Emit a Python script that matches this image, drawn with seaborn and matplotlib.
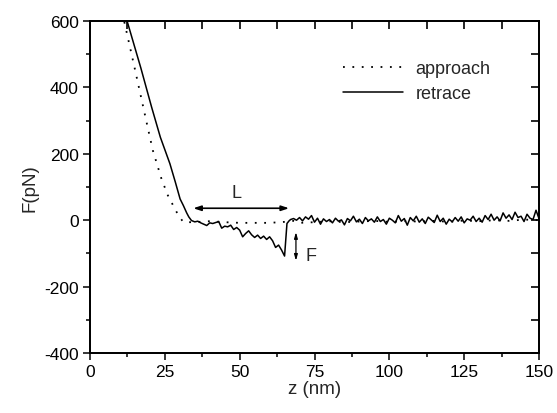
import numpy as np
import pandas as pd
import matplotlib
matplotlib.use("Agg")
import matplotlib.pyplot as plt
from matplotlib.ticker import MultipleLocator
import seaborn as sns

# ---- data ----
approach_z = [10.8, 11.4, 15.0, 18.9, 21.0, 23.9, 26.0, 27.8, 29.5, 31.2,
              35, 40, 45, 50, 55, 60, 65, 68, 70, 75, 80, 85, 90, 95, 100, 105,
              110, 115, 120, 125, 130, 135, 140, 145, 150]
approach_f = [625, 600, 455, 295, 210, 124, 75, 44, 15, -6,
              -6, -3, -6, -8, -8, -8, -5, -2, -8, -6, -3, -6, -4, -2, -5, -3,
              -4, -2, -5, -1, -3, 0, -2, 2, 0]

retrace_z = [12.0, 14.5, 17.0, 20.6, 23.5, 26.7, 28.5, 30.1, 31.2, 32.3, 33.0, 33.9,
             35, 36, 37, 38, 39, 40, 41, 42, 43, 44, 45, 46, 47, 48, 49, 50,
             51, 52, 53, 54, 55, 56, 57, 58, 59, 60, 61, 62, 63, 64, 65, 65.8, 66.5,
             67, 68, 69, 70, 71, 72, 73, 74, 75, 76, 77, 78, 79,
             80, 81, 82, 83, 84, 85, 86, 87, 88, 89, 90, 91, 92, 93, 94, 95, 96,
             97, 98, 99, 100, 101, 102, 103, 104, 105, 106, 107, 108, 109, 110,
             111, 112, 113, 114, 115, 116, 117, 118, 119, 120, 121, 122, 123, 124,
             125, 126, 127, 128, 129, 130, 131, 132, 133, 134, 135, 136, 137, 138,
             139, 140, 141, 142, 143, 144, 145, 146, 147, 148, 149, 150]
retrace_f = [612, 535, 458, 340, 250, 170, 115, 64, 44, 22, 10, -1,
             -5, -3, -8, -12, -16, -8, -10, -7, -4, -24, -18, -20, -15, -28, -22, -30,
             -50, -40, -32, -44, -52, -45, -55, -48, -58, -50, -62, -82, -75, -90, -108, -10, -2,
             2, 5, 0, 8, -2, 10, 3, 14, -6, 6, -12, 4, -4,
             2, -8, 6, -3, 1, -14, 5, -2, 12, -5, 3, -10, 8, -2, 4, -6, 10,
             -4, 2, -12, 6, 0, -8, 14, -3, 5, -15, 8, -2, 12, -6,
             4, -10, 9, 1, -7, 15, -4, 6, -12, 3, -5, 8, -3, 10,
             -8, 4, 0, 12, -4, 6, -6, 14, 2, 18, 0, 10, -2, 22,
             6, 16, 2, 24, 8, 12, -4, 18, 6, 2, 30, 5]

x_ticks = [0, 25, 50, 75, 100, 125, 150]
y_ticks = [-400, -200, 0, 200, 400, 600]

df_a = pd.DataFrame({"z": approach_z, "F": approach_f})
df_r = pd.DataFrame({"z": retrace_z, "F": retrace_f})

sns.set_style("ticks")
plt.rcParams["font.family"] = ["Liberation Sans", "DejaVu Sans"]
plt.rcParams["axes.unicode_minus"] = False

fig = plt.figure(figsize=(5.57, 4.14), dpi=100)
ax = fig.add_axes([90 / 557, 1 - 354 / 414, 449 / 557, 332 / 414])

sns.lineplot(data=df_a, x="z", y="F", ax=ax, color="black", linestyle=(0, (1, 4.2)),
             linewidth=1.3, sort=False, estimator=None, label="approach")
sns.lineplot(data=df_r, x="z", y="F", ax=ax, color="black", linestyle="-",
             linewidth=1.1, sort=False, estimator=None, label="retrace")

ax.set_xlim(0, 150)
ax.set_ylim(-400, 600)
ax.set_xticks(x_ticks)
ax.set_yticks(y_ticks)
ax.xaxis.set_minor_locator(MultipleLocator(12.5))
ax.yaxis.set_minor_locator(MultipleLocator(100))
ax.tick_params(axis="both", which="major", labelsize=12.5, direction="out",
               length=5, width=1.1, colors="black", top=False, right=False, pad=3)
ax.tick_params(axis="both", which="minor", direction="out", length=3, width=1.1,
               color="black", top=False, right=False)
for s in ax.spines.values():
    s.set_linewidth(1.1)
    s.set_color("black")

# inward ticks on top and right via twin axes
axt = ax.twiny()
axt.set_xlim(0, 150)
axt.set_xticks(x_ticks)
axt.xaxis.set_minor_locator(MultipleLocator(12.5))
axt.tick_params(axis="x", which="both", direction="in", length=6, width=1.2,
                color="black", top=True, bottom=False, labeltop=False,
                labelbottom=False)
axr = ax.twinx()
axr.set_ylim(-400, 600)
axr.set_yticks(y_ticks)
axr.yaxis.set_minor_locator(MultipleLocator(100))
axr.tick_params(axis="y", which="both", direction="in", length=6, width=1.2,
                color="black", right=True, left=False, labelright=False,
                labelleft=False)
for a in (axt, axr):
    for s in a.spines.values():
        s.set_linewidth(1.1)
        s.set_color("black")

ax.set_xlabel("z (nm)", fontsize=13.5, labelpad=1)
ax.set_ylabel("F(pN)", fontsize=13.5, labelpad=4)

# annotations
ax.annotate("", xy=(34.5, 36), xytext=(66.5, 36),
            arrowprops=dict(arrowstyle="<|-|>,head_length=0.45,head_width=0.15",
                            color="black", lw=1.2, shrinkA=0, shrinkB=0))
ax.text(49, 84, "L", fontsize=13, ha="center", va="center")
ax.annotate("", xy=(68.8, -36), xytext=(68.8, -122),
            arrowprops=dict(arrowstyle="<|-|>,head_length=0.35,head_width=0.1",
                            color="black", lw=0.9, shrinkA=0, shrinkB=0))
ax.text(72, -105, "F", fontsize=13, ha="left", va="center")

leg = ax.legend(loc="upper left", bbox_to_anchor=((336 - 90) / 449, (354 - 54) / 332),
                frameon=False, fontsize=13, handlelength=3.3, handletextpad=0.7,
                labelspacing=0.45, borderaxespad=0)

fig.savefig("out.png", dpi=100)
